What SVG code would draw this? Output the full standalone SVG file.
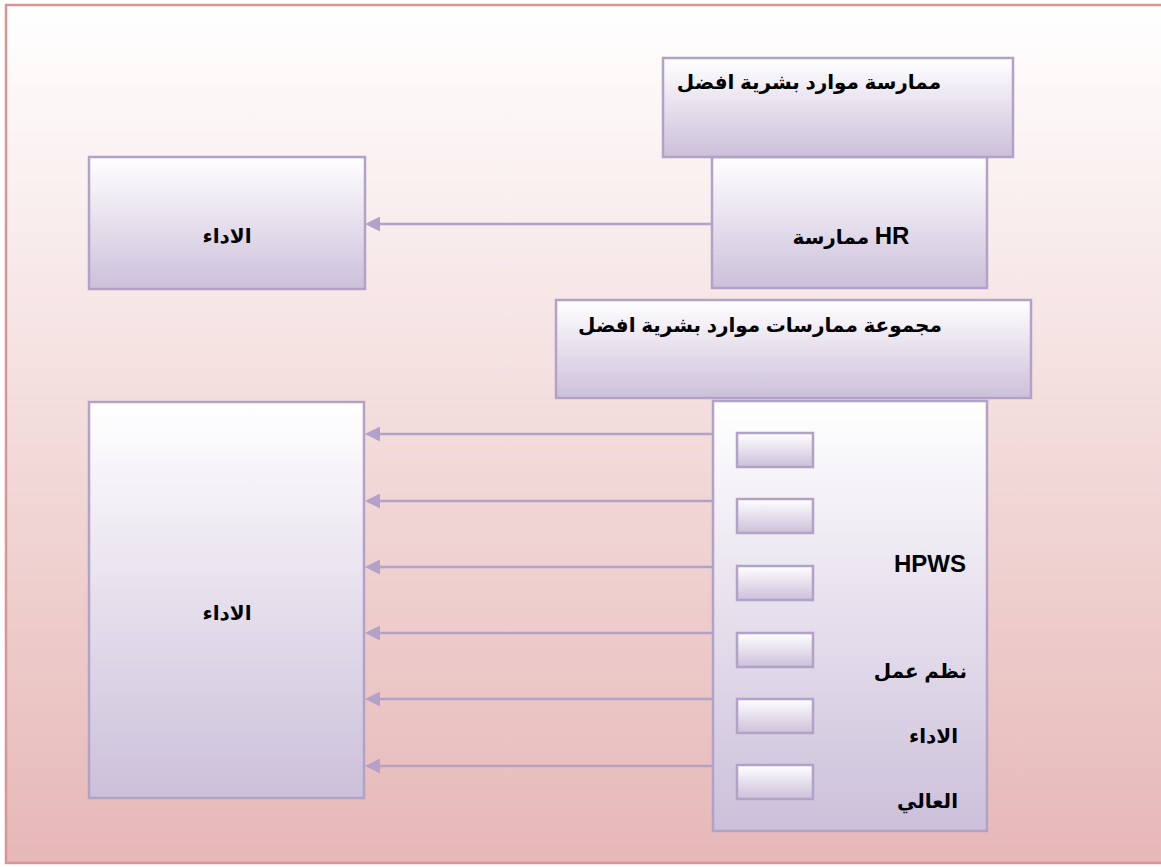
<svg xmlns="http://www.w3.org/2000/svg" width="1161" height="867" viewBox="0 0 1161 867">
  <defs>
    <linearGradient id="pageFill" x1="0" y1="0" x2="0" y2="1">
      <stop offset="0" stop-color="#ffffff"/>
      <stop offset="1" stop-color="#e6b8b7"/>
    </linearGradient>
    <linearGradient id="boxFill" x1="0" y1="0" x2="0" y2="1">
      <stop offset="0" stop-color="#ffffff"/>
      <stop offset="1" stop-color="#ccc0da"/>
    </linearGradient>
    <marker id="arrow" viewBox="0 0 15 15" refX="0" refY="7.5" markerWidth="15" markerHeight="15" markerUnits="userSpaceOnUse" orient="auto-start-reverse">
      <path d="M0,0 L15,7.5 L0,15 Z" fill="#b3a2c7"/>
    </marker>
  </defs>
  <style>
    .box { fill: url(#boxFill); stroke: #b3a2c7; stroke-width: 2.5; }
    .link { stroke: #b3a2c7; stroke-width: 2.5; fill: none; }
    .lbl { font-family: "Liberation Sans", "DejaVu Sans", Arial, sans-serif; font-weight: bold; font-size: 20px; fill: #000000; }
    .lat { font-size: 24px; }
  </style>

  <!-- page frame -->
  <rect x="6" y="5" width="1160" height="858" fill="url(#pageFill)" stroke="#d99594" stroke-width="2.5"/>

  <g id="connectors">
    <line class="link" x1="713" y1="224" x2="380" y2="224" marker-end="url(#arrow)"/>
    <line class="link" x1="713" y1="434" x2="380" y2="434" marker-end="url(#arrow)"/>
    <line class="link" x1="713" y1="501" x2="380" y2="501" marker-end="url(#arrow)"/>
    <line class="link" x1="713" y1="567" x2="380" y2="567" marker-end="url(#arrow)"/>
    <line class="link" x1="713" y1="633" x2="380" y2="633" marker-end="url(#arrow)"/>
    <line class="link" x1="713" y1="699" x2="380" y2="699" marker-end="url(#arrow)"/>
    <line class="link" x1="713" y1="766" x2="380" y2="766" marker-end="url(#arrow)"/>
  </g>

  <g id="performance-top">
    <rect class="box" x="89" y="157" width="276" height="132"/>
    <text class="lbl" x="227" y="243" text-anchor="middle">الاداء</text>
  </g>

  <g id="hr-practice">
    <rect class="box" x="712" y="157" width="275" height="131"/>
    <text class="lbl" x="851" y="244" text-anchor="middle">ممارسة <tspan class="lat">HR</tspan></text>
  </g>

  <g id="better-hr-practice">
    <rect class="box" x="663" y="58" width="350" height="99"/>
    <text class="lbl" x="809" y="89" text-anchor="middle">ممارسة موارد بشرية افضل</text>
  </g>

  <g id="better-hr-bundle">
    <rect class="box" x="556" y="300" width="475" height="98"/>
    <text class="lbl" x="760" y="332" text-anchor="middle">مجموعة ممارسات موارد بشرية افضل</text>
  </g>

  <g id="performance-bottom">
    <rect class="box" x="89" y="402" width="275" height="396"/>
    <text class="lbl" x="227" y="620" text-anchor="middle">الاداء</text>
  </g>

  <g id="hpws">
    <rect class="box" x="713" y="401" width="274" height="430"/>
    <rect class="box" x="737" y="433" width="76" height="34"/>
    <rect class="box" x="737" y="499" width="76" height="34"/>
    <rect class="box" x="737" y="566" width="76" height="34"/>
    <rect class="box" x="737" y="633" width="76" height="34"/>
    <rect class="box" x="737" y="699" width="76" height="34"/>
    <rect class="box" x="737" y="765" width="76" height="34"/>
    <text class="lbl lat" x="966" y="572" text-anchor="end">HPWS</text>
    <text class="lbl" x="967" y="678" text-anchor="end">نظم عمل</text>
    <text class="lbl" x="958" y="743" text-anchor="end">الاداء</text>
    <text class="lbl" x="958" y="808" text-anchor="end">العالي</text>
  </g>
</svg>
